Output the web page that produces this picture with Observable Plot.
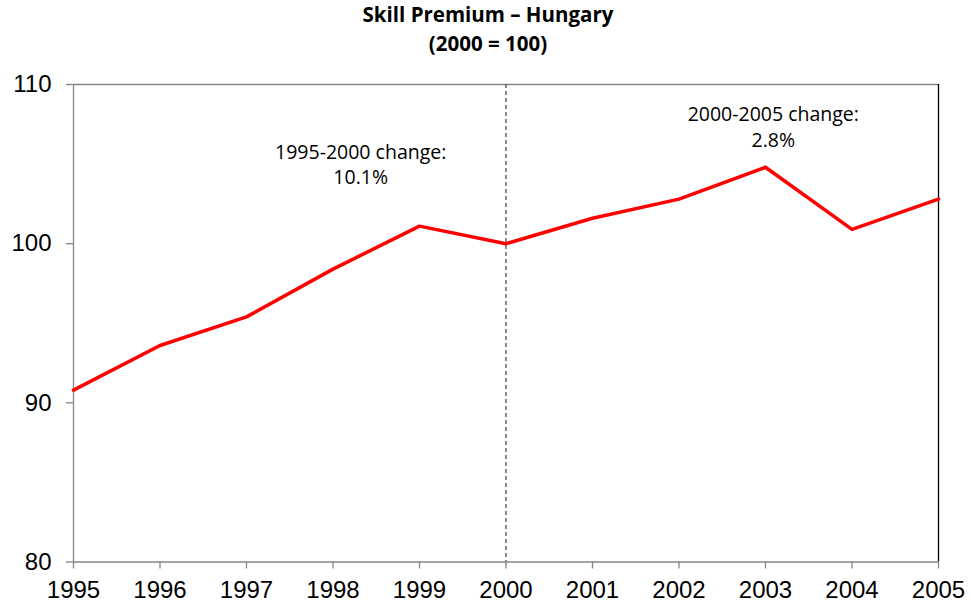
<!DOCTYPE html>
<html>
<head>
<meta charset="utf-8">
<script src="https://cdn.jsdelivr.net/npm/d3@7"></script>
<script src="https://cdn.jsdelivr.net/npm/@observablehq/plot@0.6"></script>
<style>
  body { margin: 0; background: #fff; }
  #title { width: 971px; height: 68px; text-align: center; font-family: "Open Sans", Lato, sans-serif; font-weight: bold; font-size: 20.5px; line-height: 29px; padding-top: 0; padding-left: 5px; box-sizing: border-box; color: #000; }
</style>
</head>
<body>
<div id="title">Skill Premium – Hungary<br>(2000 = 100)</div>
<div id="chart"></div>
<script>
const years = [1995, 1996, 1997, 1998, 1999, 2000, 2001, 2002, 2003, 2004, 2005];
const premium = [90.8, 93.6, 95.4, 98.4, 101.1, 100.0, 101.6, 102.8, 104.8, 100.9, 102.8];
const yTicks = [80, 90, 100, 110];
const baseYear = [2000];
const notes = ["1995-2000 change:\n10.1%", "2000-2005 change:\n2.8%"];
const noteX = [1998.32, 2003.09];
const noteY = [105.04, 107.4];

const data = years.map((y, i) => ({year: y, value: premium[i]}));
const noteData = notes.map((t, i) => ({text: t, x: noteX[i], y: noteY[i]}));
const axisFont = "'Liberation Sans', Arial, sans-serif";

const chart = Plot.plot({
  width: 971,
  height: 543,
  marginTop: 16,
  marginBottom: 49.5,
  marginLeft: 73,
  marginRight: 33,
  style: {fontFamily: axisFont, fontSize: "24px", background: "white"},
  x: {domain: [1995, 2005]},
  y: {domain: [80, 110]},
  marks: [
    Plot.ruleY([110], {stroke: "#868686", strokeWidth: 1.3}),
    Plot.ruleY([80], {stroke: "#868686", strokeWidth: 1.3}),
    Plot.ruleX([1995], {stroke: "#868686", strokeWidth: 1.3}),
    Plot.ruleX([2005], {stroke: "#000", strokeWidth: 1.3}),
    Plot.ruleX(baseYear, {stroke: "#404040", strokeWidth: 1.2, strokeDasharray: "4,3"}),
    Plot.axisX({ticks: years, tickFormat: d => String(d), tickSize: 7, tickPadding: 12, stroke: "#868686", fill: "#000", fontSize: 24, fontFamily: axisFont, strokeWidth: 1.3, label: null}),
    Plot.axisY({ticks: yTicks, tickSize: 7, tickPadding: 15, stroke: "#868686", fill: "#000", fontSize: 24, fontFamily: axisFont, strokeWidth: 1.3, label: null}),
    Plot.line(data, {x: "year", y: "value", stroke: "#ff0000", strokeWidth: 3.5}),
    Plot.text(noteData, {x: "x", y: "y", text: "text", fontSize: 19.5, lineHeight: 1.3, fontFamily: "'Open Sans', Lato, sans-serif", fill: "#000"})
  ]
});
document.getElementById("chart").appendChild(chart);
</script>
</body>
</html>
